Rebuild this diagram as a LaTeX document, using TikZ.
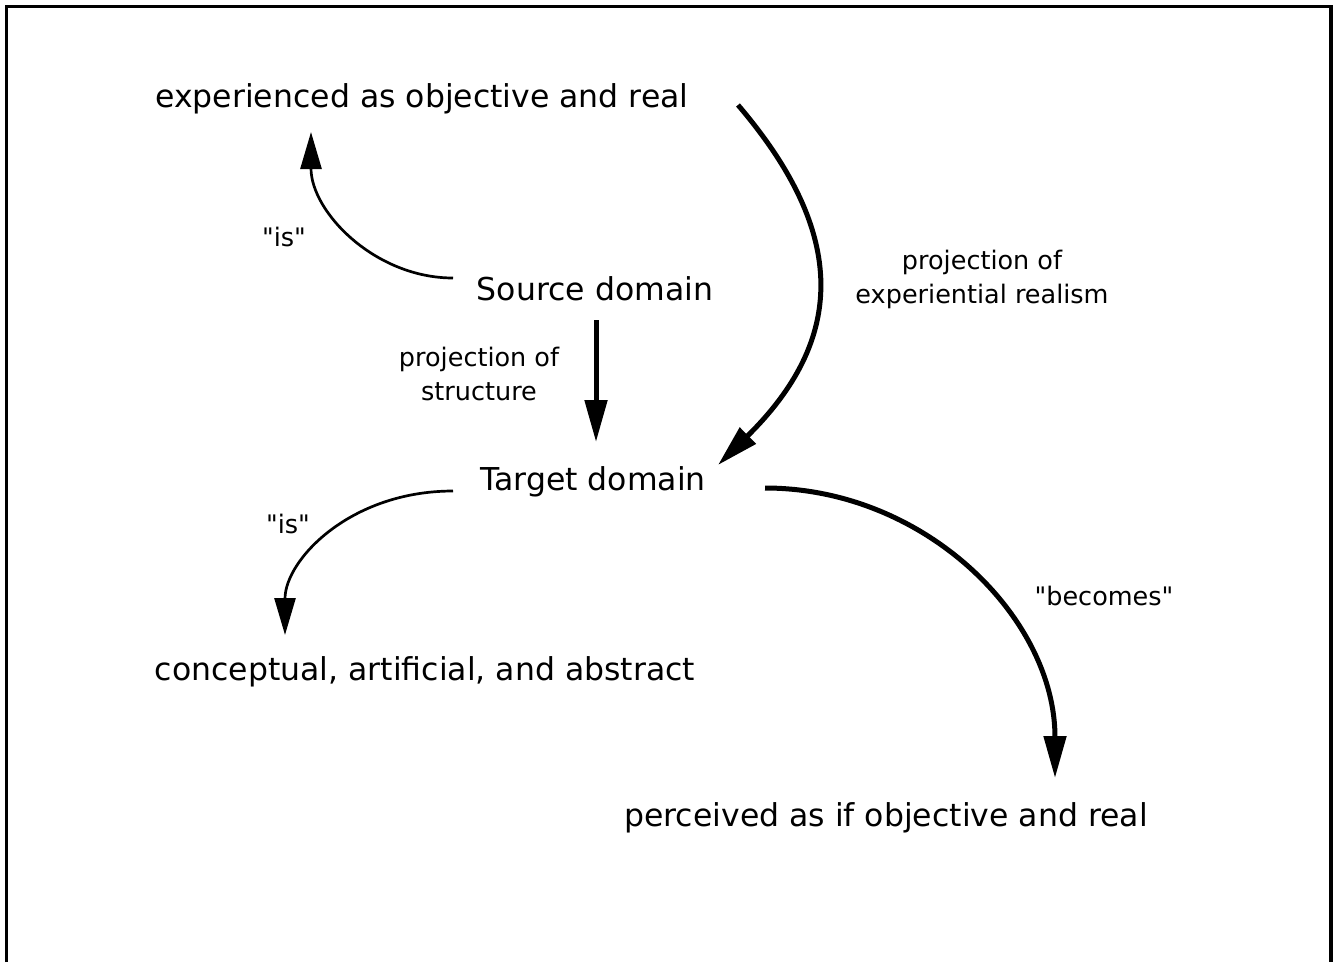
\documentclass[tikz,border=0pt]{standalone}
\usepackage{fontspec}
\setmainfont{DejaVu Sans}[Ligatures=TeXOff]
\usetikzlibrary{arrows.meta}
\newcommand{\dq}{\symbol{34}}
\begin{document}
\begin{tikzpicture}[x=1pt,y=-1pt,
  big/.style={font=\fontsize{31.5}{38}\selectfont, inner sep=0pt, anchor=base},
  lab/.style={font=\fontsize{25.5}{33.5}\selectfont, inner sep=0pt, anchor=base, align=center},
  thinarrow/.style={line width=2.7pt, -{Triangle[length=37pt,width=21pt]}},
  thickarrow/.style={line width=5pt, -{Triangle[length=42pt,width=22pt]}},
]
\useasboundingbox (0,0) rectangle (1335,962);
\draw[line width=3.5pt] (6.5,962) -- (6.5,6.5) -- (1331,6.5) -- (1331,962);

% main texts
\node[big] (exp) at (422,107) {experienced as objective and real};
\node[big] (src) at (595,300) {Source domain};
\node[big] (tgt) at (593,490) {Target domain};
\node[big] (con) at (425,680) {conceptual, artificial, and abstract};
\node[big] (per) at (886,826) {perceived as if objective and real};

% labels
\node[lab] (is1) at (284,246) {\dq is\dq};
\node[lab] (is2) at (288,533) {\dq is\dq};
\node[lab] (pos) at (479,400) {projection of\\structure};
\node[lab] (per2) at (982,303) {projection of\\experiential realism};
\node[lab] (bec) at (1104,605) {\dq becomes\dq};

% connector end points
\coordinate (a1s) at (453,278);
\coordinate (a1e) at (311,132);
\coordinate (a2s) at (596,320);
\coordinate (a2e) at (596,442);
\coordinate (a3s) at (738,105);
\coordinate (a3e) at (718,465);
\coordinate (a4s) at (453,491);
\coordinate (a4e) at (285,635);
\coordinate (a5s) at (765,488);
\coordinate (a5e) at (1055,778);

\draw[thinarrow] (a1s) .. controls (375,278) and (311,212) .. (a1e);
\draw[thickarrow] (a2s) -- (a2e);
\draw[thickarrow] (a3s) .. controls (849,235) and (845,340) .. (a3e);
\draw[thinarrow] (a4s) .. controls (350,491) and (285,560) .. (a4e);
\draw[thickarrow] (a5s) .. controls (925,488) and (1055,618) .. (a5e);
\end{tikzpicture}
\end{document}
